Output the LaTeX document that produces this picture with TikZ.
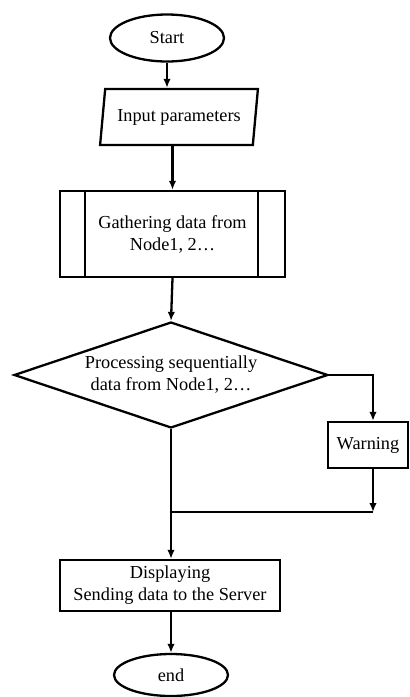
\documentclass[tikz,border=0pt]{standalone}
\usepackage{fontspec}
\setmainfont{Liberation Serif}
\usetikzlibrary{shapes.geometric,arrows.meta}

\begin{document}
\begin{tikzpicture}[x=1pt,y=-1pt,
  every node/.style={font=\fontsize{18.3}{22}\selectfont, align=center, inner sep=0pt},
  terminal/.style={draw, line width=2.3pt, ellipse},
  io/.style={draw, line width=2.3pt, trapezium, trapezium left angle=75, trapezium right angle=105, trapezium stretches=true},
  process/.style={draw, line width=2.3pt, rectangle},
  decision/.style={draw, line width=2.3pt, diamond, aspect=3},
  link/.style={line width=2.3pt},
  flow/.style={link, -{Latex[length=9pt,width=7.5pt]}}
]
\useasboundingbox (0,0) rectangle (410,697);

% shapes
\node[terminal, minimum width=114pt, minimum height=47pt] (start) at (167,38) {Start};
\node[io, minimum width=158pt, minimum height=56pt] (input) at (179,117) {Input parameters};
\node[process, minimum width=225pt, minimum height=86pt] (gather) at (172.5,234) {Gathering data from\\Node1, 2\ldots};
\draw[link] ([xshift=26pt]gather.north west) -- ([xshift=26pt]gather.south west);
\draw[link] ([xshift=-28pt]gather.north east) -- ([xshift=-28pt]gather.south east);
\node[decision, minimum width=314pt, minimum height=106pt] (proc) at (171,375) {Processing sequentially\\data from Node1, 2\ldots};
\node[process, minimum width=80pt, minimum height=46pt] (warn) at (368,445) {Warning};
\node[process, minimum width=220pt, minimum height=51pt] (disp) at (170,585.5) {Displaying\\Sending data to the Server};
\node[terminal, minimum width=114pt, minimum height=42pt] (stop) at (171,675) {end};

% helper points for the side branch
\coordinate (wcol) at (373,375);
\coordinate (merge) at (171,512);

% connectors
\draw[flow] (start.south) -- (start.south |- input.north);
\draw[flow] (gather.north |- input.south) -- (gather.north);
\draw[flow] (gather.south) -- (proc.north);
\draw[flow] (proc.east) -| (wcol |- warn.north);
\draw[flow] (wcol |- warn.south) -- (wcol |- merge);
\draw[link] (wcol |- merge) -- (merge);
\draw[flow] (proc.south) -- (proc.south |- disp.north);
\draw[flow] (proc.south |- disp.south) -- (proc.south |- stop.north);
\end{tikzpicture}
\end{document}
